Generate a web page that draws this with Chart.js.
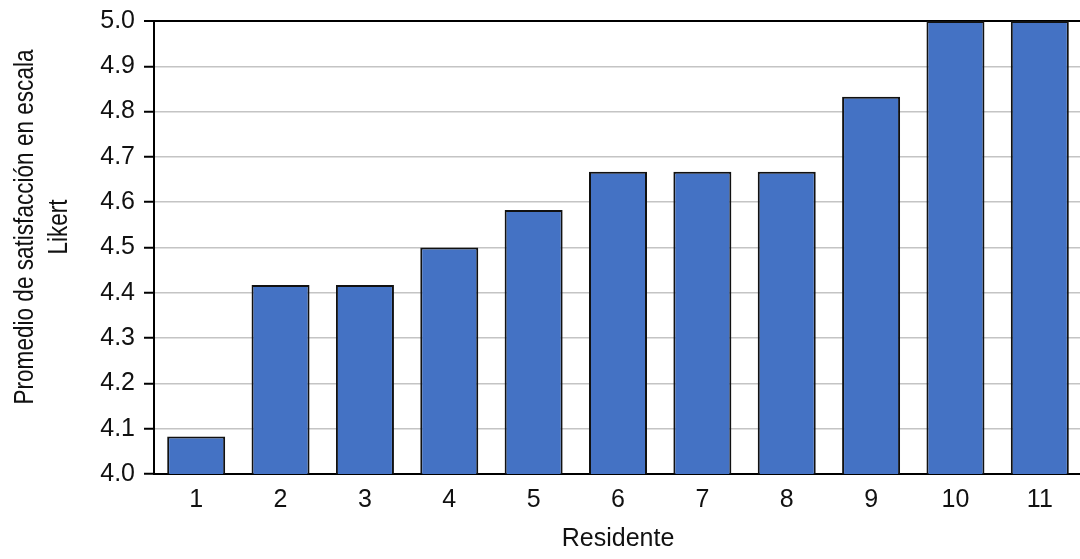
<!DOCTYPE html>
<html>
<head>
<meta charset="utf-8">
<script src="https://cdn.jsdelivr.net/npm/chart.js@4.4.1/dist/chart.umd.min.js"></script>
<style>
  html, body { margin: 0; padding: 0; overflow: hidden; background: #fff; }
  canvas { display: block; }
</style>
</head>
<body>
<canvas id="c" width="1082" height="559"></canvas>
<script>
const residentes = ['1', '2', '3', '4', '5', '6', '7', '8', '9', '10', '11'];
const promedios = [4.083, 4.417, 4.417, 4.5, 4.583, 4.667, 4.667, 4.667, 4.833, 5.0, 5.0];
const yMin = 4.0;
const yMax = 5.0;
const yStep = 0.1;
const xTitle = 'Residente';
const yTitleLines = ['Promedio de satisfacción en escala', 'Likert'];

const FONT = "'Liberation Sans', Arial, Helvetica, sans-serif";

const yTitlePlugin = {
  id: 'yTitle',
  afterDraw(chart) {
    const ctx = chart.ctx;
    ctx.save();
    ctx.fillStyle = '#111';
    ctx.font = '27px ' + FONT;
    ctx.textAlign = 'center';
    ctx.textBaseline = 'alphabetic';
    const targetLen = 355;
    const k = targetLen / ctx.measureText(yTitleLines[0]).width;
    const xs = [33, 67];
    yTitleLines.forEach((t, i) => {
      ctx.save();
      ctx.translate(xs[i], 227);
      ctx.rotate(-Math.PI / 2);
      ctx.scale(k, 1);
      ctx.fillText(t, 0, 0);
      ctx.restore();
    });
    ctx.restore();
  }
};

new Chart(document.getElementById('c'), {
  type: 'bar',
  data: {
    labels: residentes,
    datasets: [{
      data: promedios,
      backgroundColor: '#4472C4',
      borderColor: '#111',
      borderWidth: 2,
      borderSkipped: false,
      categoryPercentage: 1.0,
      barPercentage: 0.6875
    }]
  },
  options: {
    responsive: false,
    animation: false,
    devicePixelRatio: 1,
    layout: { padding: { top: 21, right: 0, bottom: 0, left: 0 } },
    plugins: {
      legend: { display: false },
      tooltip: { enabled: false }
    },
    scales: {
      x: {
        afterFit(s) { s.height = 85; s.paddingLeft = 0; s.paddingRight = 0; },
        grid: { display: false, drawTicks: false },
        border: { display: true, color: '#000', width: 2 },
        ticks: {
          color: '#111',
          padding: 11,
          font: { family: FONT, size: 25 }
        },
        title: {
          display: true,
          text: xTitle,
          color: '#111',
          font: { family: FONT, size: 25 },
          padding: { top: 0, bottom: 5 }
        }
      },
      y: {
        min: yMin,
        max: yMax,
        afterFit(s) { s.width = 154; s.paddingTop = 0; s.paddingBottom = 0; },
        grid: {
          color: (c) => (c.tick && Math.abs(c.tick.value - yMax) < 1e-6) ? '#000' : '#c4c4c4',
          lineWidth: (c) => (c.tick && Math.abs(c.tick.value - yMax) < 1e-6) ? 2 : 1.5,
          drawTicks: true,
          tickLength: 10,
          tickColor: '#000',
          tickWidth: 2
        },
        border: { display: true, color: '#000', width: 2 },
        ticks: {
          stepSize: yStep,
          color: '#111',
          padding: 9,
          font: { family: FONT, size: 25 },
          callback: (v) => Number(v).toFixed(1)
        }
      }
    }
  },
  plugins: [yTitlePlugin]
});
</script>
</body>
</html>
